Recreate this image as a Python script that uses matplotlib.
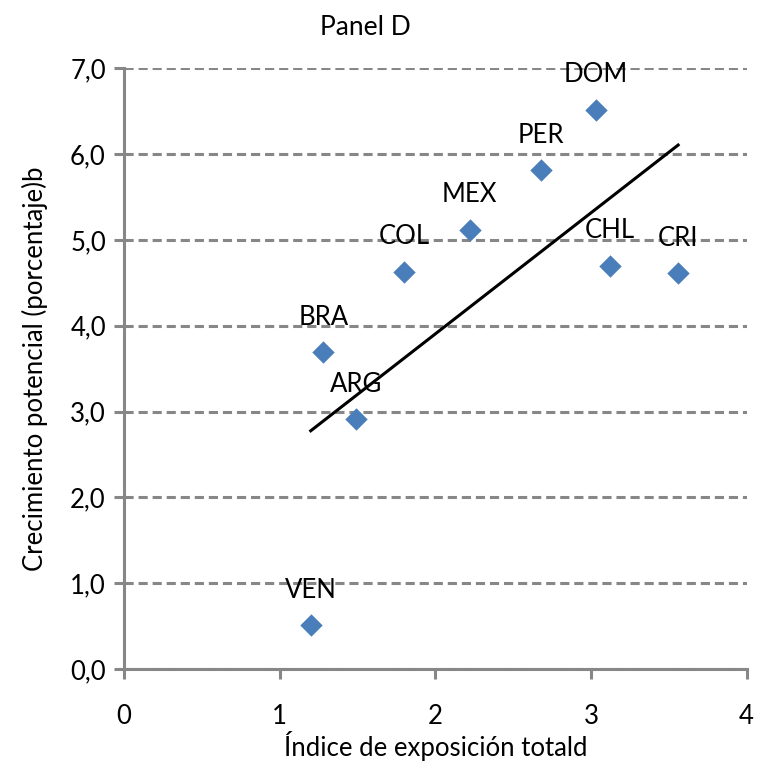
import numpy as np
import matplotlib
matplotlib.use("Agg")
from matplotlib import pyplot as plt
from matplotlib.ticker import FuncFormatter

plt.rcParams['font.family'] = ['Lato', 'DejaVu Sans']

countries = ["VEN", "BRA", "ARG", "COL", "MEX", "PER", "DOM", "CHL", "CRI"]
exposure = [1.20, 1.28, 1.49, 1.80, 2.22, 2.68, 3.03, 3.12, 3.56]
growth = [0.51, 3.69, 2.91, 4.63, 5.12, 5.81, 6.52, 4.70, 4.61]

grey = "#878787"
fs = 18.5

fig = plt.figure(figsize=(7.65, 7.68), dpi=100)
ax = fig.add_axes([0.162, 0.129, 0.814, 0.782])

ax.scatter(exposure, growth, marker="D", s=130, color="#4a7ebb", zorder=3, linewidths=0)
for name, xv, yv in zip(countries, exposure, growth):
    ax.annotate(name, (xv, yv), xytext=(0, 25), textcoords="offset points",
                ha="center", va="center", fontsize=fs, zorder=4)

# linear trend
x = np.array(exposure)
slope, icpt = np.polyfit(x, np.array(growth), 1)
xs = np.array([x.min(), x.max()])
ax.plot(xs, slope * xs + icpt, color="black", lw=2.2, zorder=2)

ax.set_xlim(0, 4)
ax.set_ylim(0, 7)
ax.set_xticks(range(5))
ax.set_yticks(np.arange(0, 8, 1))
ax.yaxis.set_major_formatter(FuncFormatter(lambda v, p: f"{v:.1f}".replace(".", ",")))
ax.grid(axis="y", color=grey, ls=(0, (3, 1.6)), lw=2.2)
ax.set_axisbelow(True)

for s in ["top", "right"]:
    ax.spines[s].set_visible(False)
for s in ["left", "bottom"]:
    ax.spines[s].set_color(grey)
    ax.spines[s].set_linewidth(2.2)
ax.tick_params(axis="both", colors=grey, width=2.2, length=7, labelsize=fs,
               labelcolor="black")
ax.tick_params(axis="x", pad=18)
ax.tick_params(axis="y", pad=6)

ax.set_xlabel("Índice de exposición totald", fontsize=fs, labelpad=2)
ax.set_ylabel("Crecimiento potencial (porcentaje)b", fontsize=fs, labelpad=16)
ax.set_title("Panel D", fontsize=fs + 0.5, pad=24, x=0.387)

fig.savefig("out.png", dpi=100)
